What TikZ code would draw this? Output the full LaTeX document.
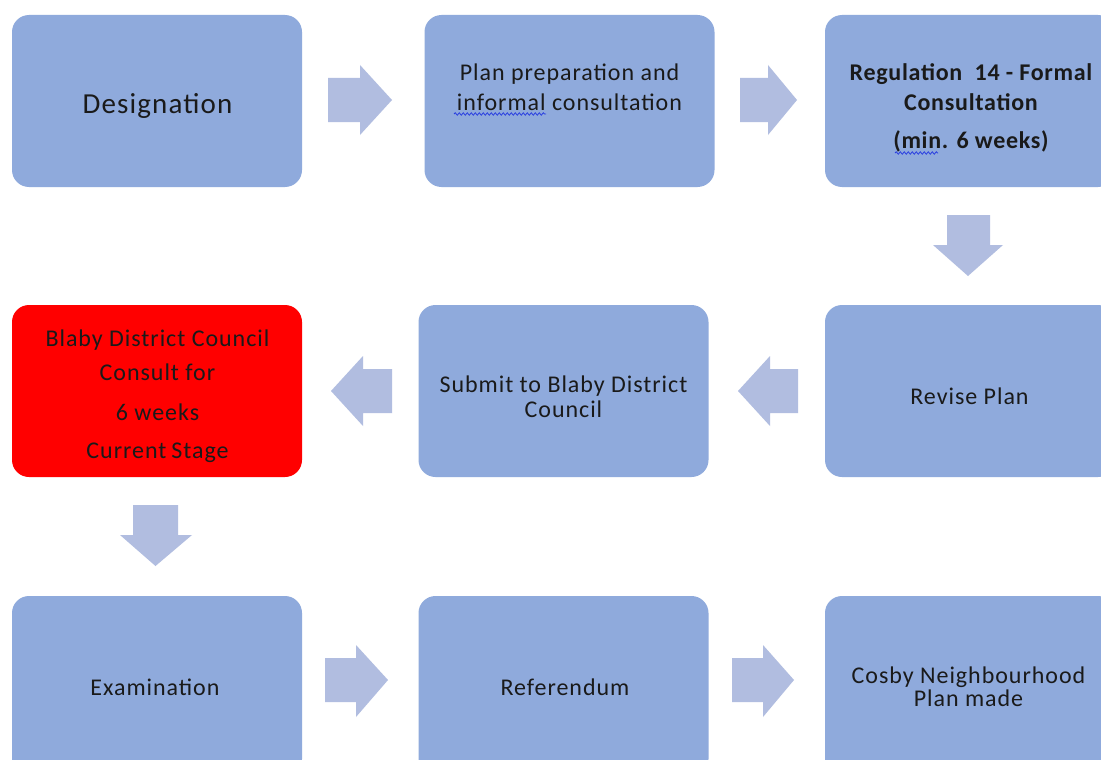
\documentclass[tikz,border=0pt]{standalone}
\usepackage{fontspec}
\setmainfont{Carlito}[LetterSpace=4]
\usetikzlibrary{decorations.pathmorphing}
\definecolor{boxblue}{HTML}{8FAADC}
\definecolor{arrowblue}{HTML}{B1BDE0}
\definecolor{txt}{HTML}{1A1A1A}
\definecolor{squig}{HTML}{2A3FE0}
\tikzset{
  stagebox/.style={rounded corners=17pt, fill=boxblue, draw=none, minimum width=290pt, minimum height=172pt, inner sep=0pt},
  tallbox/.style={stagebox, minimum height=180pt},
  redbox/.style={stagebox, fill=red},
  label text/.style={text=txt, align=center, inner sep=0pt},
  blockarrow/.style={fill=arrowblue, draw=none},
  squiggle/.style={draw=squig, line width=0.8pt, decorate, decoration={snake, amplitude=1.2pt, segment length=4pt}},
}
\begin{document}
\begin{tikzpicture}[x=1pt, y=-1pt]
\useasboundingbox (0,0) rectangle (1101,760);
\clip (0,0) rectangle (1101,760);
\fill[white] (0,0) rectangle (1101,760);
% boxes
\node[stagebox] (a) at (157,101) {};
\node[stagebox] (b) at (569.5,101) {};
\node[stagebox] (c) at (970,101) {};
\node[redbox] (d) at (157,391) {};
\node[stagebox] (e) at (563.5,391) {};
\node[stagebox] (f) at (970,391) {};
\node[tallbox] (g) at (157,686) {};
\node[tallbox] (h) at (563.5,686) {};
\node[tallbox] (i) at (970,686) {};
% texts
\node[label text, font=\fontsize{29}{32}\selectfont] (at) at (157.5,106) {Designation};
\node[label text, font=\fontsize{24}{30}\selectfont] (bt) at (569.5,87) {Plan preparation and\\informal consultation};
\node[label text, font=\bfseries\fontsize{24}{30}\selectfont\addfontfeature{LetterSpace=3}] (ct) at (971,107.5) {Regulation\ \ 14 - Formal\\Consultation\\[8pt](min. 6 weeks)};
\node[label text, font=\fontsize{24}{34}\selectfont] (dt) at (157.5,396) {Blaby District Council\\Consult for\\[6pt]6 weeks\\[4pt]Current\hspace{5pt}Stage};
\node[label text, font=\fontsize{24}{25}\selectfont] (et) at (563.5,396.5) {Submit to Blaby District\\Council};
\node[label text, font=\fontsize{24}{25}\selectfont] (ft) at (969.5,396) {Revise Plan};
\node[label text, font=\fontsize{24}{25}\selectfont] (gt) at (155,687) {Examination};
\node[label text, font=\fontsize{24}{25}\selectfont] (ht) at (565,687) {Referendum};
\node[label text, font=\fontsize{24}{23}\selectfont] (it) at (968.5,686.5) {Cosby Neighbourhood\\Plan made};
% squiggles
\draw[squiggle] (454,114) -- (546,114);
\draw[squiggle] (895,153) -- (938,153);
% arrows row 1
\fill[blockarrow] (328,78) -- (360,78) -- (360,65) -- (392,100) -- (360,135) -- (360,122) -- (328,122) -- cycle;
\fill[blockarrow] (740,78) -- (768,78) -- (768,65) -- (797,100) -- (768,135) -- (768,122) -- (740,122) -- cycle;
% down arrow c -> f
\fill[blockarrow] (947,215) -- (990,215) -- (990,245) -- (1003,245) -- (968,276) -- (933,245) -- (947,245) -- cycle;
% arrows row 2 (leftwards)
\fill[blockarrow] (798,369) -- (770,369) -- (770,356) -- (738,391) -- (770,426) -- (770,413) -- (798,413) -- cycle;
\fill[blockarrow] (392,369) -- (363,369) -- (363,356) -- (331,391) -- (363,426) -- (363,413) -- (392,413) -- cycle;
% down arrow d -> g
\fill[blockarrow] (133,505) -- (178,505) -- (178,535) -- (192,535) -- (155.5,566) -- (120,535) -- (133,535) -- cycle;
% arrows row 3
\fill[blockarrow] (325,658) -- (356,658) -- (356,645) -- (388,680) -- (356,717) -- (356,702) -- (325,702) -- cycle;
\fill[blockarrow] (732,658) -- (763,658) -- (763,645) -- (794,680) -- (763,717) -- (763,702) -- (732,702) -- cycle;
\end{tikzpicture}
\end{document}
